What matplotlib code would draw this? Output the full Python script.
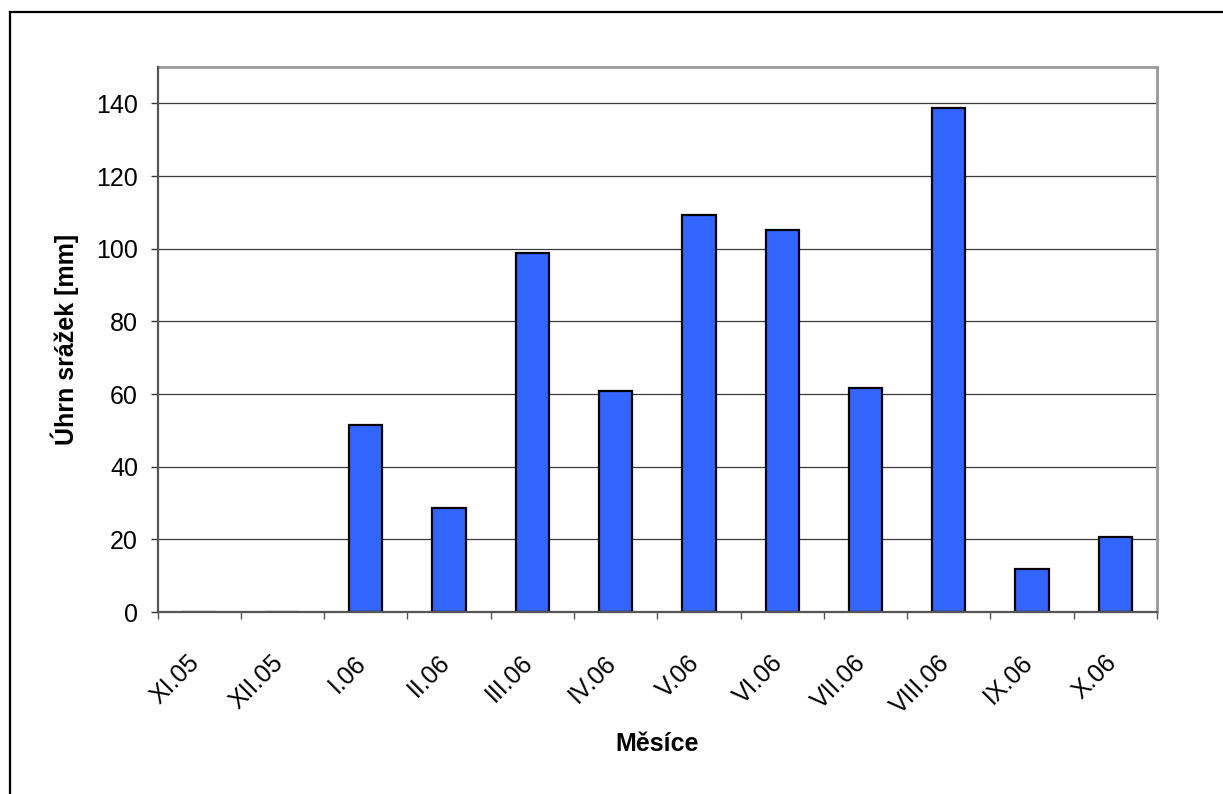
import matplotlib
matplotlib.use("Agg")
import matplotlib.pyplot as plt
from matplotlib.lines import Line2D
import matplotlib.transforms as mtransforms
import numpy as np

plt.rcParams['font.family'] = ['Liberation Sans', 'DejaVu Sans']

months = ["XI.05", "XII.05", "I.06", "II.06", "III.06", "IV.06",
          "V.06", "VI.06", "VII.06", "VIII.06", "IX.06", "X.06"]
precip = [0, 0, 51.4, 28.6, 98.7, 60.7, 109.4, 105.1, 61.6, 138.7, 11.7, 20.6]
y_ticks = [0, 20, 40, 60, 80, 100, 120, 140]

W, H = 1223, 794
fig = plt.figure(figsize=(W / 100, H / 100), dpi=100)
fig.patch.set_facecolor('white')

left, right, top, bottom = 157.5, 1157, 67, 612
ax = fig.add_axes([left / W, (H - bottom) / H, (right - left) / W, (bottom - top) / H])

x = np.arange(len(months))
ax.bar(x, precip, width=0.4, color='#3366FF', edgecolor='black', linewidth=1.6, zorder=2)

ax.set_xlim(-0.5, len(months) - 0.5)
ax.set_ylim(0, 150)
ax.set_yticks(y_ticks)
ax.set_yticklabels([str(v) for v in y_ticks])
ax.yaxis.grid(True, color='#3a3a3a', linewidth=0.9)
ax.set_axisbelow(True)

ax.set_xticks(x)
ax.set_xticklabels(months, rotation=45, ha='right', va='center', rotation_mode='anchor')
ax.set_xticks(np.arange(len(months) + 1) - 0.5, minor=True)
ax.tick_params(axis='x', which='major', length=0, pad=34, labelsize=18)
ax.tick_params(axis='x', which='minor', length=5, width=1.0, color='#555555', direction='out')
ax.tick_params(axis='y', which='major', length=5, width=1.0, color='#333333', pad=9, labelsize=18)

offset = mtransforms.ScaledTranslation(-3 / 100, 0, fig.dpi_scale_trans)
for lbl in ax.get_xticklabels():
    lbl.set_transform(lbl.get_transform() + offset)

for s in ['left', 'bottom']:
    ax.spines[s].set_color('#555555')
    ax.spines[s].set_linewidth(1.6)
    ax.spines[s].set_zorder(3)
for s in ['top', 'right']:
    ax.spines[s].set_color('#999999')
    ax.spines[s].set_linewidth(2.0)

fig.text(657 / W, (H - 751) / H, "Měsíce", ha='center', va='baseline',
         fontsize=18, fontweight='bold')
fig.text(65 / W, (H - 339.5) / H, "Úhrn srážek [mm]", ha='center', va='center',
         rotation=90, fontsize=18, fontweight='bold')

# outer frame (top and left edges visible)
fig.add_artist(Line2D([10 / W, 1.0], [(H - 12) / H, (H - 12) / H], color='black', linewidth=1.6,
                      transform=fig.transFigure))
fig.add_artist(Line2D([10 / W, 10 / W], [0.0, (H - 12) / H], color='black', linewidth=1.6,
                      transform=fig.transFigure))

fig.savefig("out.png", dpi=100, facecolor='white')
